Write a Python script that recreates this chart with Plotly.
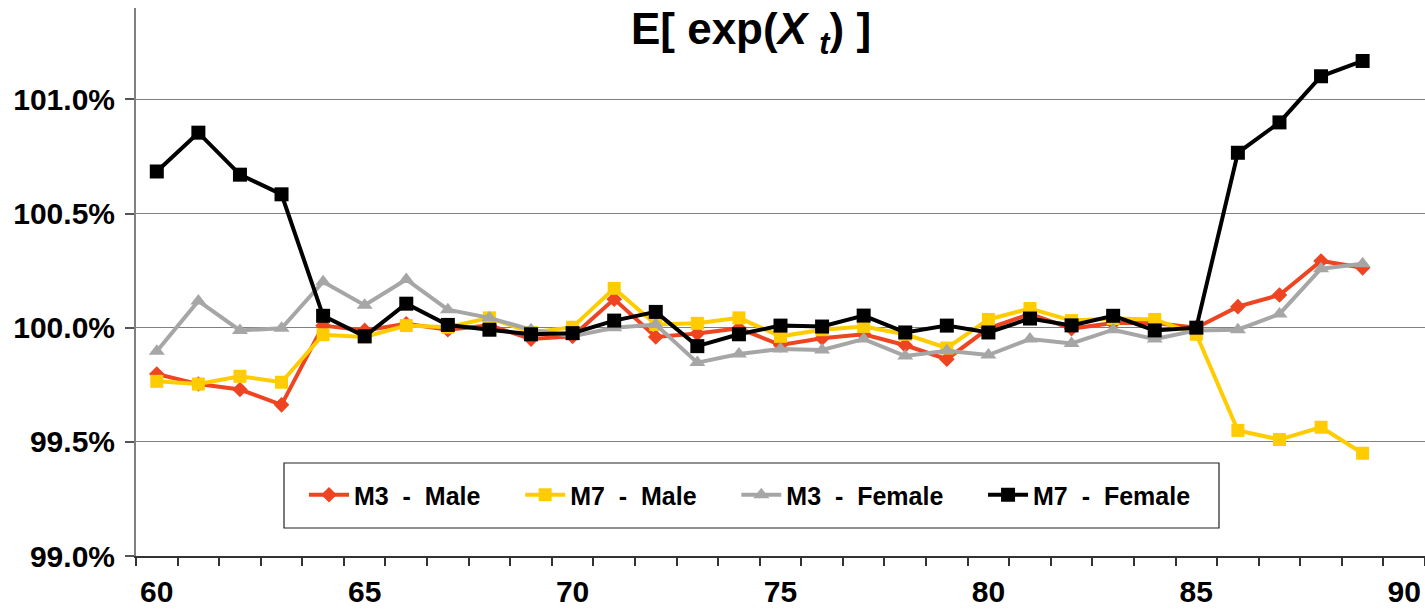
import plotly.graph_objects as go

# Ages on the horizontal axis
ages = list(range(60, 90))

# E[exp(X_t)] in percent, one list per model / sex
m3_male = [99.797, 99.753, 99.729, 99.662, 100.009, 99.988, 100.017, 99.991, 100.010, 99.950,
           99.962, 100.125, 99.959, 99.974, 99.997, 99.924, 99.954, 99.971, 99.923, 99.862,
           99.997, 100.060, 99.996, 100.020, 100.020, 100.000, 100.092, 100.143, 100.292, 100.262]
m7_male = [99.765, 99.753, 99.787, 99.761, 99.969, 99.959, 100.009, 100.002, 100.043, 99.979,
           100.002, 100.172, 100.014, 100.019, 100.043, 99.962, 99.991, 100.005, 99.971, 99.911,
           100.036, 100.084, 100.031, 100.040, 100.036, 99.971, 99.550, 99.510, 99.564, 99.450]
m3_female = [99.897, 100.117, 99.988, 99.997, 100.201, 100.098, 100.211, 100.079, 100.043, 99.991,
             99.962, 100.000, 100.014, 99.847, 99.885, 99.907, 99.902, 99.950, 99.876, 99.899,
             99.880, 99.950, 99.931, 99.991, 99.950, 99.988, 99.991, 100.060, 100.258, 100.280]
m7_female = [100.684, 100.854, 100.670, 100.584, 100.052, 99.962, 100.105, 100.012, 99.991, 99.971,
             99.976, 100.031, 100.069, 99.919, 99.971, 100.009, 100.005, 100.053, 99.979, 100.009,
             99.979, 100.040, 100.010, 100.052, 99.988, 100.000, 100.766, 100.899, 101.101, 101.168]

series_names = ["M3 - Male", "M7 - Male", "M3 - Female", "M7 - Female"]

y_ticks = [99.0, 99.5, 100.0, 100.5, 101.0]
y_tick_text = ["99.0%", "99.5%", "100.0%", "100.5%", "101.0%"]
x_ticks = [60, 65, 70, 75, 80, 85, 90]

FONT = "Liberation Sans, Arial, sans-serif"
NB = "\u00a0"

# plot area in pixels: left 136, right 1425, top 8, bottom 556
PLOT_L, PLOT_W, PLOT_B, PLOT_H = 136, 1289, 556, 548


def px_x(px):
    return (px - PLOT_L) / PLOT_W


def px_y(px):
    return (PLOT_B - px) / PLOT_H


def legend_label(name, last=False):
    # widen the gaps around the dash and after each entry
    label = name.replace(" - ", NB * 2 + "-" + NB * 2)
    return label if last else label + NB * 5


styles = [
    ("#EE4422", "diamond", 12),
    ("#FFCC00", "square", 13),
    ("#A6A6A6", "triangle-up", 14),
    ("#000000", "square", 14),
]
values = [m3_male, m7_male, m3_female, m7_female]

fig = go.Figure()
for i, (name, vals, (color, symbol, size)) in enumerate(zip(series_names, values, styles)):
    fig.add_trace(go.Scatter(
        x=ages, y=vals, name=legend_label(name, last=(i == len(series_names) - 1)),
        mode="lines+markers",
        line=dict(color=color, width=4),
        marker=dict(symbol=symbol, size=size, color=color, line=dict(width=0)),
    ))

# legend frame
fig.add_shape(
    type="rect", xref="paper", yref="paper",
    x0=px_x(284), x1=px_x(1219), y0=px_y(528), y1=px_y(463),
    line=dict(color="#222222", width=1.2), fillcolor="white", layer="above",
)

fig.update_layout(
    width=1425, height=614,
    margin=dict(l=PLOT_L, r=0, t=8, b=614 - PLOT_B),
    paper_bgcolor="white", plot_bgcolor="white",
    font=dict(family=FONT, color="black"),
    title=dict(
        text="E[ exp(<i>X</i> <sub><i>t</i></sub>) ]",
        font=dict(family=FONT, size=44, weight="bold", color="black"),
        x=751 / 1425, xanchor="center", xref="container",
        y=1 - 29 / 614, yanchor="middle", yref="container",
    ),
    showlegend=True,
    legend=dict(
        orientation="h",
        x=px_x(304), xanchor="left",
        y=px_y(472), yanchor="top",
        bgcolor="rgba(0,0,0,0)", borderwidth=0,
        font=dict(family=FONT, size=25, weight="bold", color="black"),
        itemwidth=40,
    ),
)

fig.update_xaxes(
    range=[59.5, 90.5],
    tickvals=x_ticks, ticktext=[str(v) for v in x_ticks],
    ticks="", showgrid=False, zeroline=False,
    showline=True, linecolor="#333333", linewidth=1.5,
    tickfont=dict(family=FONT, size=30, weight="bold", color="black"),
    ticklabelstandoff=8,
    minor=dict(tick0=59.5, dtick=1, ticks="outside", ticklen=8, tickcolor="#333333",
               tickwidth=1.5, showgrid=False),
)

fig.update_yaxes(
    range=[99.0, 101.4],
    tickvals=y_ticks, ticktext=y_tick_text,
    ticks="outside", ticklen=9, tickcolor="#555555", tickwidth=1.5,
    showgrid=True, gridcolor="#808080", gridwidth=1,
    zeroline=False,
    showline=True, linecolor="#808080", linewidth=2,
    tickfont=dict(family=FONT, size=30, weight="bold", color="black"),
    ticklabelstandoff=4,
)

fig.write_html("out.html")
